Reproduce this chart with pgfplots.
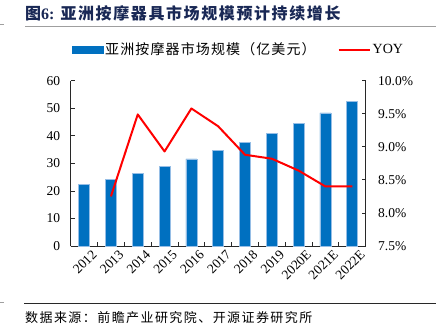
\documentclass[border=0pt]{standalone}
\usepackage{pgfplots}
\pgfplotsset{compat=1.18}
\usepackage{fontspec}
\setmainfont{Liberation Serif}
\newfontfamily\cjk{Noto Sans CJK SC}
\newfontfamily\cjkt[LetterSpace=10]{Noto Sans CJK SC}
\newfontfamily\cjkl[LetterSpace=8]{Noto Sans CJK SC}
\newfontfamily\cjks[LetterSpace=11]{Noto Sans CJK SC}
\definecolor{barblue}{RGB}{0,112,192}
\definecolor{baredge}{RGB}{150,190,230}
\definecolor{titleblue}{RGB}{25,40,85}
\definecolor{axgray}{RGB}{40,40,40}
\pgfplotsset{
  barleg/.style={legend image code/.code={\fill[barblue] (0pt,-3.5pt) rectangle (31pt,3.5pt);}},
  lineleg/.style={legend image code/.code={\draw[red, line width=2pt] (0pt,0pt) -- (31pt,0pt);}},
}
\begin{document}
\begin{tikzpicture}[x=1pt,y=1pt]
\path[use as bounding box] (0,0) rectangle (439,327);
% title
\node[anchor=west, inner sep=0pt, text=titleblue] at (25,313.5)
  {\fontsize{16}{18}\selectfont{\cjkt\bfseries 图}{\bfseries 6:}\hspace{6pt}{\cjkt\bfseries 亚洲按摩器具市场规模预计持续增长}};
\draw[gray!75, line width=1.3pt] (25,300.5) -- (436,300.5);
\draw[gray!75, line width=1pt] (0,302) -- (4,302);
% bottom source
\draw[axgray, line width=0.8pt] (24,24) -- (436,24);
\draw[gray!75, line width=1pt] (0,25) -- (4,25);
\node[anchor=west, inner sep=0pt] at (25,9.5)
  {\fontsize{13}{15}\selectfont\cjks 数据来源：前瞻产业研究院、开源证券研究所};
\begin{axis}[
  at={(70.7pt,81pt)}, anchor=south west,
  scale only axis, width=295pt, height=165.3pt,
  xmin=-0.5, xmax=10.5, ymin=0, ymax=60,
  axis x line*=bottom, axis y line*=left,
  axis line style={axgray, line width=0.8pt},
  xtick={0,...,10},
  xticklabels={2012,2013,2014,2015,2016,2017,2018,2019,2020E,2021E,2022E},
  major x tick style={draw=none},
  minor xtick={0.5,1.5,...,9.5},
  minor x tick style={axgray, line width=0.8pt},
  minor tick length=4pt,
  ytick={0,10,...,60},
  major tick length=4pt,
  tick align=inside,
  y tick style={axgray, line width=0.8pt},
  tick label style={font=\fontsize{13.5}{14}\selectfont},
  /pgf/number format/assume math mode=true,
  xticklabel style={rotate=45, anchor=north east, inner sep=1pt, yshift=-6pt, xshift=4pt},
  yticklabel style={xshift=-7pt},
  clip=false,
]
\addplot[ybar, bar width=11pt, fill=barblue, draw=baredge, line width=0.6pt]
  coordinates {(0,22.4) (1,24.2) (2,26.4) (3,28.8) (4,31.6) (5,34.6) (6,37.7) (7,41.0) (8,44.6) (9,48.3) (10,52.5)};
\end{axis}
\begin{axis}[
  at={(70.7pt,81pt)}, anchor=south west,
  scale only axis, width=295pt, height=165.3pt,
  xmin=-0.5, xmax=10.5, ymin=7.5, ymax=10,
  axis x line=none, axis y line*=right,
  axis line style={axgray, line width=0.8pt},
  ytick={7.5,8,...,10},
  major tick length=4pt,
  tick align=inside,
  y tick style={axgray, line width=0.8pt},
  tick label style={font=\fontsize{13.5}{14}\selectfont},
  /pgf/number format/assume math mode=true,
  /pgf/number format/.cd, fixed, fixed zerofill, precision=1, /pgfplots/.cd,
  yticklabel={\pgfmathprintnumber{\tick}\%},
  yticklabel style={xshift=9pt},
  legend columns=2,
  legend style={at={(0.003,1.188)}, anchor=west, draw=none, fill=none,
    font=\fontsize{14}{16}\selectfont, inner sep=0pt,
    /tikz/every even column/.append style={column sep=20pt}},
  legend cell align=left,
  clip=false,
]
\addlegendimage{barleg}
\addlegendentry{\cjkl 亚洲按摩器市场规模（亿美元）}
\addplot[red, line width=2pt, line join=round, lineleg]
  coordinates {(1,8.25) (2,9.49) (3,8.93) (4,9.58) (5,9.31) (6,8.88) (7,8.82) (8,8.64) (9,8.40) (10,8.40)};
\addlegendentry{YOY}
\end{axis}
\end{tikzpicture}
\end{document}
